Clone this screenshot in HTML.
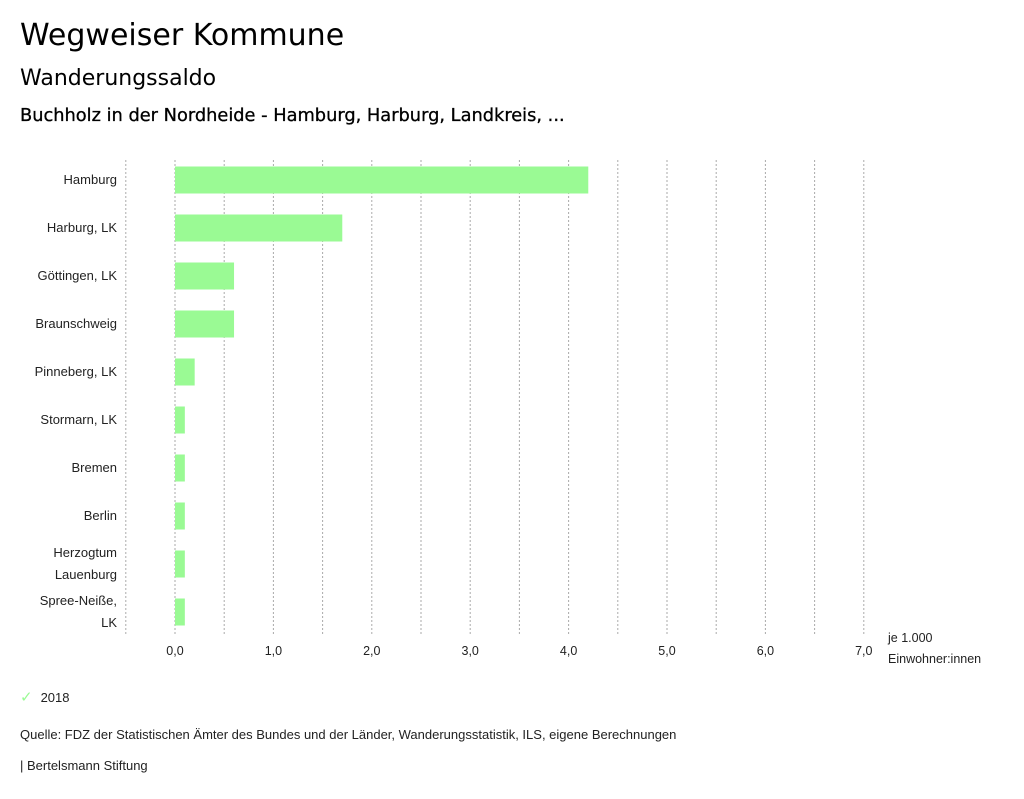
<!DOCTYPE html>
<html><head><meta charset="utf-8"><style>
body{margin:0;width:1024px;height:799px;background:#fff;font-family:"Liberation Sans","DejaVu Sans",sans-serif;color:#000;position:relative;overflow:hidden}
.t{position:absolute;white-space:nowrap}
svg{position:absolute;left:0;top:0}
</style></head><body>
<div class="t" style="left:20px;top:18px;font-size:30px;font-family:'DejaVu Sans',sans-serif">Wegweiser Kommune</div>
<div class="t" style="left:20px;top:66px;font-size:22px;font-family:'DejaVu Sans',sans-serif">Wanderungssaldo</div>
<div class="t" style="left:20px;top:105px;font-size:17.8px;font-family:'DejaVu Sans',sans-serif;-webkit-text-stroke:0.3px #000">Buchholz in der Nordheide - Hamburg, Harburg, Landkreis, ...</div>
<svg id="chart" width="1024" height="799"></svg>
<div class="t" style="left:20px;top:688px;font-size:13px;color:#222"><span style="color:#9afa94;margin-right:8px;font-size:15px;font-family:'DejaVu Sans',sans-serif">✓</span>2018</div>
<div class="t" style="left:20px;top:727px;font-size:13px;color:#222">Quelle: FDZ der Statistischen Ämter des Bundes und der Länder, Wanderungsstatistik, ILS, eigene Berechnungen</div>
<div class="t" style="left:20px;top:758px;font-size:13px;color:#222">| Bertelsmann Stiftung</div>
<script>
const categories=[["Hamburg"],["Harburg, LK"],["Göttingen, LK"],["Braunschweig"],["Pinneberg, LK"],["Stormarn, LK"],["Bremen"],["Berlin"],["Herzogtum","Lauenburg"],["Spree-Neiße,","LK"]];
const values=[4.2,1.7,0.6,0.6,0.2,0.1,0.1,0.1,0.1,0.1];
const ticks=[0,1,2,3,4,5,6,7];
const tickLabels=["0,0","1,0","2,0","3,0","4,0","5,0","6,0","7,0"];
const NS="http://www.w3.org/2000/svg";
const svg=document.getElementById('chart');
const x=v=>175+v*98.4;
const yc=i=>180+i*48;
function mk(t,a){const e=document.createElementNS(NS,t);for(const k in a)e.setAttribute(k,a[k]);svg.appendChild(e);return e;}
for(let g=-0.5;g<=7.01;g+=0.5){
 const l=mk('line',{x1:x(g),x2:x(g),y1:160,y2:635,stroke:'#aaa','stroke-dasharray':'2,2','stroke-width':1});
 
 
}
ticks.forEach((t,i)=>{
 const e=mk('text',{x:x(t),y:655,'text-anchor':'middle','font-size':12.5,fill:'#222'});
 e.textContent=tickLabels[i];
 
 
});
values.forEach((v,i)=>{
 const r=mk('rect',{x:x(0),y:yc(i)-13.5,width:x(v)-x(0),height:27,fill:'#9afa94'});
 
 
 const lines=categories[i];
 lines.forEach((s,j)=>{
  const e=mk('text',{x:117,y:yc(i)+4+(lines.length>1?(j-0.5)*22:0),'text-anchor':'end','font-size':13,fill:'#222'});
  e.textContent=s;
  
  
 });
});
[["je 1.000",642],["Einwohner:innen",663]].forEach(a=>{
 const e=mk('text',{x:888,y:a[1],'font-size':12.5,fill:'#222'});
 e.textContent=a[0];
 
 
});
</script>
</body></html>
